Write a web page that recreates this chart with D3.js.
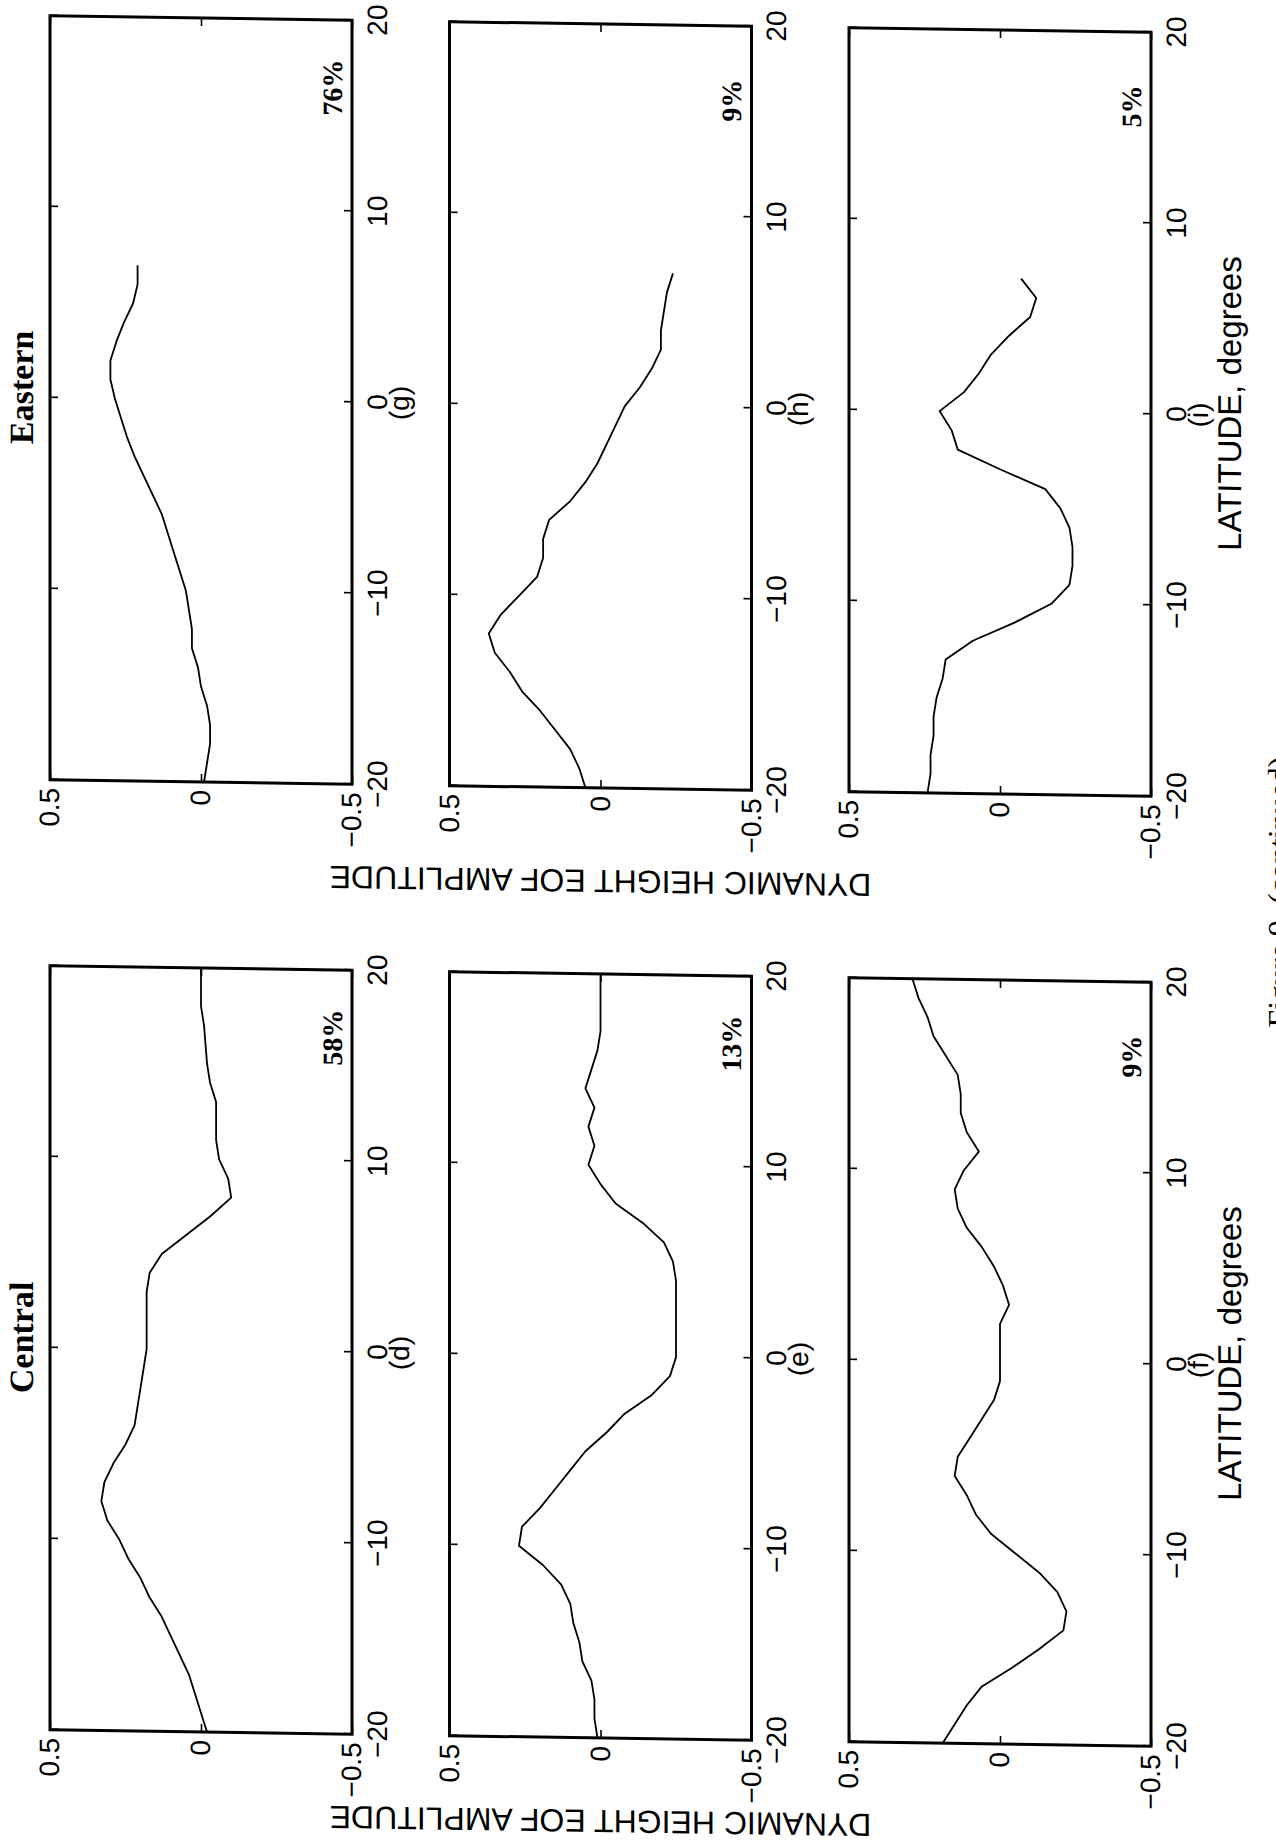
<!DOCTYPE html>
<html>
<head>
<meta charset="utf-8">
<script src="https://cdn.jsdelivr.net/npm/d3@7"></script>
<style>
  body { margin: 0; background: #fff; }
  .tick text { font-family: "Liberation Sans", Arial, Helvetica, sans-serif; font-size: 28px; fill: #000; }
  .tick line { stroke: #000; stroke-width: 1.6; }
</style>
</head>
<body>
<div id="chart"></div>
<script>
// The page is a scan of a landscape figure printed sideways:
// the figure is drawn upright here and then turned onto the page.
const width = 1276, height = 1844;
const W = height;   // upright figure width
const H = width;    // upright figure height

// latitude grids (degrees)
const latCentral = [-20,-19,-18,-17,-16,-15,-14,-13,-12,-11,-10,-9,-8,-7,-6,-5,-4,-3,-2,-1,0,
                    1,2,3,4,5,6,7,8,9,10,11,12,13,14,15,16,17,18,19,20];
const latEastern = [-20,-19,-18,-17,-16,-15,-14,-13,-12,-11,-10,-9,-8,-7,-6,-5,-4,-3,-2,-1,0,
                    1,2,3,4,5,6,7];

// dynamic height EOF amplitudes, Central
const eofD = [-0.02,0.00,0.02,0.04,0.07,0.10,0.13,0.17,0.20,0.24,0.27,0.31,0.33,0.32,0.29,0.25,0.22,0.21,0.20,0.19,0.18,
              0.18,0.18,0.18,0.17,0.13,0.05,-0.03,-0.10,-0.09,-0.06,-0.05,-0.05,-0.05,-0.03,-0.02,-0.015,-0.01,0.00,0.00,0.00];
const eofE = [0.01,0.02,0.02,0.03,0.06,0.07,0.09,0.10,0.13,0.19,0.27,0.26,0.20,0.15,0.10,0.05,-0.02,-0.08,-0.17,-0.23,-0.25,
              -0.25,-0.25,-0.25,-0.25,-0.24,-0.21,-0.14,-0.05,0.00,0.04,0.02,0.04,0.02,0.05,0.03,0.01,0.00,0.00,0.00,0.00];
const eofF = [0.19,0.15,0.11,0.06,-0.04,-0.13,-0.21,-0.22,-0.19,-0.13,-0.05,0.03,0.08,0.11,0.15,0.14,0.10,0.06,0.02,0.00,0.00,
              0.00,0.00,-0.03,-0.01,0.02,0.06,0.11,0.14,0.15,0.12,0.07,0.11,0.13,0.13,0.14,0.18,0.22,0.24,0.27,0.29];
// Eastern
const eofG = [-0.01,-0.02,-0.03,-0.03,-0.02,0.00,0.01,0.03,0.03,0.04,0.05,0.07,0.09,0.11,0.13,0.16,0.19,0.22,0.245,0.265,0.285,
              0.30,0.30,0.28,0.255,0.225,0.21,0.21];
const eofH = [0.05,0.07,0.10,0.15,0.20,0.26,0.30,0.35,0.37,0.33,0.27,0.21,0.19,0.19,0.17,0.10,0.05,0.01,-0.02,-0.05,-0.08,
              -0.13,-0.17,-0.20,-0.20,-0.21,-0.22,-0.24];
const eofI = [0.24,0.23,0.23,0.22,0.22,0.21,0.19,0.18,0.09,-0.05,-0.17,-0.23,-0.24,-0.24,-0.23,-0.20,-0.15,0.00,0.14,0.16,0.20,
              0.12,0.07,0.03,-0.03,-0.10,-0.12,-0.07];

const regions = ['Central', 'Eastern'];
const letters = [['(d)','(e)','(f)'], ['(g)','(h)','(i)']];
const percents = [['58%','13%','9%'], ['76%','9%','5%']];
const series = [[eofD, eofE, eofF], [eofG, eofH, eofI]];
const lats = [latCentral, latEastern];

const latTicks = [-20, -10, 0, 10, 20];
const ampTicks = [0.5, 0, -0.5];

// layout of the upright figure
const colLeft = [106, 1056], colWidth = 764;
const rowTop = [50, 449.5, 849], rowHeight = 302;
const yLabelGap = [72, 82];

const sans = '"Liberation Sans", Arial, Helvetica, sans-serif';
const serif = '"Liberation Serif", "Times New Roman", serif';

const svg = d3.select('#chart').append('svg')
  .attr('width', width)
  .attr('height', height);

// slight skew of the scan
const page = svg.append('g').attr('transform', 'matrix(1,0.015,0,1,0,-9)');
const fig = page.append('g').attr('transform', `translate(0,${W}) rotate(-90)`);

const ampY = d3.scaleLinear().domain([-0.5, 0.5]);
const fmt = d3.format('');

regions.forEach((region, c) => {
  const x = d3.scaleLinear().domain([-20, 20]).range([colLeft[c], colLeft[c] + colWidth]);
  const mid = colLeft[c] + colWidth / 2;

  fig.append('text')
    .attr('x', mid + 10)
    .attr('y', 33)
    .attr('text-anchor', 'middle')
    .style('font-family', serif)
    .style('font-weight', 'bold')
    .style('font-size', '34px')
    .text(region);

  fig.append('text')
    .attr('transform', `translate(${colLeft[c] - yLabelGap[c]},${rowTop[1] + rowHeight / 2}) rotate(-90)`)
    .attr('text-anchor', 'middle')
    .style('font-family', sans)
    .style('font-size', '32px')
    .text('DYNAMIC HEIGHT EOF AMPLITUDE');

  fig.append('text')
    .attr('x', mid + 12)
    .attr('y', rowTop[2] + rowHeight + 90)
    .attr('text-anchor', 'middle')
    .style('font-family', sans)
    .style('font-size', '33px')
    .text('LATITUDE, degrees');

  rowTop.forEach((top, r) => {
    const y = ampY.copy().range([top + rowHeight, top]);
    const panel = fig.append('g');

    panel.append('g')
      .attr('transform', `translate(0,${top + rowHeight})`)
      .call(d3.axisBottom(x).tickValues(latTicks).tickSizeInner(-8).tickSizeOuter(0).tickPadding(15).tickFormat(fmt))
      .call(g => g.select('.domain').remove());
    panel.append('g')
      .attr('transform', `translate(0,${top})`)
      .call(d3.axisTop(x).tickValues(latTicks).tickSizeInner(-8).tickSizeOuter(0).tickFormat(''))
      .call(g => g.select('.domain').remove());
    panel.append('g')
      .attr('transform', `translate(${colLeft[c]},0)`)
      .call(d3.axisLeft(y).tickValues(ampTicks).tickSizeInner(-8).tickSizeOuter(0).tickPadding(8).tickFormat(fmt))
      .call(g => g.select('.domain').remove());
    panel.append('g')
      .attr('transform', `translate(${colLeft[c] + colWidth},0)`)
      .call(d3.axisRight(y).tickValues(ampTicks).tickSizeInner(-8).tickSizeOuter(0).tickFormat(''))
      .call(g => g.select('.domain').remove());

    panel.append('rect')
      .attr('x', colLeft[c])
      .attr('y', top)
      .attr('width', colWidth)
      .attr('height', rowHeight)
      .attr('fill', 'none')
      .attr('stroke', '#000')
      .attr('stroke-width', 3);

    const line = d3.line()
      .x((d, i) => x(lats[c][i]))
      .y(d => y(d));

    panel.append('path')
      .datum(series[c][r])
      .attr('d', line)
      .attr('fill', 'none')
      .attr('stroke', '#000')
      .attr('stroke-width', 1.8)
      .attr('stroke-linejoin', 'round');

    panel.append('text')
      .attr('x', x(15))
      .attr('y', top + rowHeight - 10)
      .style('font-family', serif)
      .style('font-weight', 'bold')
      .style('font-size', '28px')
      .text(percents[c][r]);

    panel.append('text')
      .attr('x', x(0))
      .attr('y', top + rowHeight + 57)
      .attr('text-anchor', 'middle')
      .style('font-family', sans)
      .style('font-size', '28px')
      .text(letters[c][r]);
  });
});

fig.append('text')
  .attr('x', 962)
  .attr('y', 1290)
  .attr('text-anchor', 'middle')
  .style('font-family', serif)
  .style('font-size', '32px')
  .text('Figure 9. (continued)');
</script>
</body>
</html>
